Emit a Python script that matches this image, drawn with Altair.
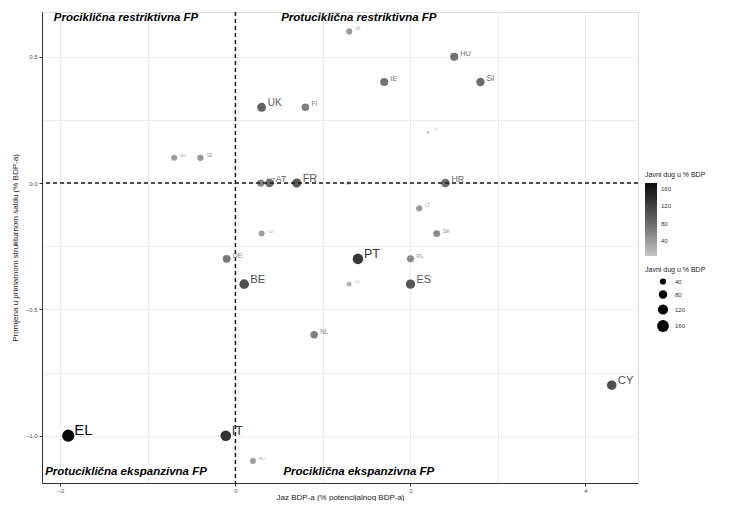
import altair as alt
import pandas as pd

# ---- data ----
countries = ["EL", "IT", "RO", "DE", "BE", "CZ", "UK", "MT", "AT", "FR", "FI", "LV", "BG", "LU",
             "NL", "PT", "IE", "PL", "ES", "LT", "SK", "HR", "HU", "SI", "EE", "CY", "DK", "SE"]
gap = [-1.91, -0.11, 0.20, -0.10, 0.10, 0.30, 0.30, 0.29, 0.39, 0.70, 0.80, 1.30, 1.29, 1.30,
       0.90, 1.40, 1.70, 2.00, 2.00, 2.10, 2.30, 2.40, 2.50, 2.80, 2.20, 4.30, -0.70, -0.40]
change = [-1.00, -1.00, -1.10, -0.30, -0.40, -0.20, 0.30, 0.00, 0.00, 0.00, 0.30, 0.60, 0.00, -0.40,
          -0.60, -0.30, 0.40, -0.30, -0.40, -0.10, -0.20, 0.00, 0.50, 0.40, 0.20, -0.80, 0.10, 0.10]
debt = [174, 132, 38, 68, 105, 37, 88, 58, 83, 96, 63, 40, 14, 22,
        62, 128, 73, 54, 99, 40, 52, 82, 74, 79, 6, 105, 37, 42]

quad_labels = ["Prociklična restriktivna FP", "Protuciklična restriktivna FP",
               "Protuciklična ekspanzivna FP", "Prociklična ekspanzivna FP"]
quad_x = [-1.25, 1.41, -1.25, 1.41]
quad_y = [0.655, 0.655, -1.145, -1.145]

ref_zero = [0]

x_ticks = [-2, -1, 0, 1, 2, 3, 4]
y_ticks = [-1.0, -0.75, -0.5, -0.25, 0.0, 0.25, 0.5]

df = pd.DataFrame({"country": countries, "gap": gap, "change": change, "debt": debt})
qdf = pd.DataFrame({"label": quad_labels, "gap": quad_x, "change": quad_y})
zdf = pd.DataFrame({"zero": ref_zero})

FONT = "Liberation Sans"
X_TITLE = "Jaz BDP-a (% potencijalnog BDP-a)"
Y_TITLE = "Promjena u primarnom strukturnom saldu (% BDP-a)"

x_scale = alt.Scale(domain=[-2.21, 4.6], nice=False, zero=False)
y_scale = alt.Scale(domain=[-1.187, 0.677], nice=False, zero=False)

x_axis = alt.Axis(
    values=x_ticks, format=".0f", title=X_TITLE,
    labelExpr="datum.value % 2 == 0 ? datum.label : ''",
    tickOpacity={"condition": {"test": "datum.value % 2 == 0", "value": 1}, "value": 0},
    labelPadding=1, titlePadding=0,
)
y_axis = alt.Axis(
    values=y_ticks, format=".1f", title=Y_TITLE,
    labelExpr="abs(datum.value * 2 - round(datum.value * 2)) < 0.001 ? datum.label : ''",
    tickOpacity={"condition": {"test": "abs(datum.value * 2 - round(datum.value * 2)) < 0.001",
                               "value": 1}, "value": 0},
    titlePadding=6,
)

color_scale = alt.Scale(domain=[5, 174], range=["#c6c6c6", "#0a0a0a"], interpolate="lab")

base = alt.Chart(df)

points = base.mark_circle(opacity=1).encode(
    x=alt.X("gap:Q", scale=x_scale, axis=x_axis),
    y=alt.Y("change:Q", scale=y_scale, axis=y_axis),
    color=alt.Color(
        "debt:Q", scale=color_scale,
        legend=alt.Legend(
            title="Javni dug u % BDP", orient="none", legendX=603, legendY=159,
            direction="vertical", gradientLength=73, gradientThickness=12,
            values=[40, 80, 120, 160], labelOffset=4, padding=0,
        ),
    ),
    size=alt.Size(
        "debt:Q", scale=alt.Scale(domain=[4, 174], range=[8, 150], zero=False),
        legend=alt.Legend(
            title="Javni dug u % BDP", orient="none", legendX=603, legendY=254,
            values=[40, 80, 120, 160], symbolFillColor="black", symbolStrokeColor="black",
            symbolStrokeWidth=0, symbolType="circle", rowPadding=5, symbolOffset=12,
            labelOffset=6, padding=0,
        ),
    ),
)

vline = alt.Chart(zdf).mark_rule(strokeDash=[4, 3], strokeWidth=1.5, color="#1a1a1a").encode(
    x=alt.datum(ref_zero[0])
)
hline = alt.Chart(zdf).mark_rule(strokeDash=[4, 3], strokeWidth=1.5, color="#1a1a1a").encode(
    y=alt.datum(ref_zero[0])
)

labels = base.mark_text(align="left", baseline="alphabetic", dx=6, dy=-1, font=FONT).encode(
    x="gap:Q",
    y="change:Q",
    text="country:N",
    color=alt.Color("debt:Q", scale=color_scale, legend=None),
    size=alt.Size(
        "debt:Q",
        scale=alt.Scale(domain=[5, 40, 75, 90, 174], range=[2.5, 4.5, 7.5, 10.5, 15], zero=False),
        legend=None,
    ),
)

quad = alt.Chart(qdf).mark_text(
    fontStyle="italic", fontWeight="bold", fontSize=11.5, font=FONT, color="black",
    align="center", baseline="middle",
).encode(x="gap:Q", y="change:Q", text="label:N")

chart = (
    alt.layer(points, vline, hline, labels, quad)
    .resolve_scale(size="independent")
    .properties(
        width=596, height=471,
        autosize=alt.AutoSizeParams(type="none"),
        padding={"left": 34, "top": 4, "right": 84, "bottom": 18},
    )
    .configure_view(stroke="#d9d9d9", strokeWidth=1)
    .configure_axis(
        labelFont=FONT, titleFont=FONT, labelFontSize=6, titleFontSize=8,
        labelColor="#4d4d4d", titleColor="#1a1a1a", titleFontWeight="normal",
        gridColor="#ebebeb", gridWidth=1, domainColor="#333333", domainWidth=1,
        tickColor="#333333", tickSize=3,
    )
    .configure_legend(
        titleFont=FONT, labelFont=FONT, titleFontSize=7, labelFontSize=6,
        titleFontWeight="normal", titleColor="#1a1a1a", labelColor="#333333",
    )
)

chart.save("out.html", embed_options={"renderer": "svg", "actions": False})
